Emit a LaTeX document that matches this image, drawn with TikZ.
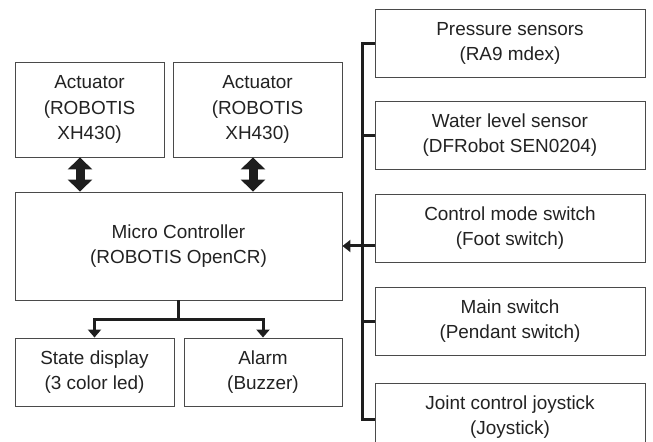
\documentclass[tikz,border=0pt]{standalone}
\usepackage{fontspec}
\setmainfont{Liberation Sans}
\usetikzlibrary{arrows.meta,positioning,calc}
\definecolor{blkLine}{HTML}{1E1E1E}
\definecolor{blkEdge}{HTML}{4A4A4A}
\definecolor{blkText}{HTML}{222222}

\begin{document}
\begin{tikzpicture}[x=1bp,y=-1bp,font=\fontsize{19}{25.5}\selectfont,
  blkbox/.style={draw=blkEdge,line width=0.9bp,text=blkText,align=center,inner sep=2bp},
  sidebox/.style={blkbox,minimum width=270bp,minimum height=68bp},
  busline/.style={draw=blkLine,line width=3bp},
  biarrow/.style={draw=blkLine,line width=9bp,
    {Triangle[length=12bp,width=24bp]}-{Triangle[length=12bp,width=24bp]}},
  node distance=24bp]
\clip (0,0) rectangle (653,442);
% left part
\node[blkbox,minimum width=149bp,minimum height=95bp] (act1) at (89.5,109.5) {Actuator\\(ROBOTIS\\XH430)};
\node[blkbox,minimum width=169bp,minimum height=95bp] (act2) at (257.5,109.5) {Actuator\\(ROBOTIS\\XH430)};
\node[blkbox,minimum width=327bp,minimum height=108bp] (mcu) at (178.5,246) {Micro Controller\\(ROBOTIS OpenCR)};
\node[blkbox,minimum width=159bp,minimum height=68bp] (disp) at (94.5,372) {State display\\(3 color led)};
\node[blkbox,minimum width=158bp,minimum height=68bp] (alarm) at (263,372) {Alarm\\(Buzzer)};
% right column
\node[sidebox] (press) at (510,43.5) {Pressure sensors\\(RA9 mdex)};
\node[sidebox,below=23bp of press] (water) {Water level sensor\\(DFRobot SEN0204)};
\node[sidebox,below=of water] (ctrl) {Control mode switch\\(Foot switch)};
\node[sidebox,below=of ctrl] (main) {Main switch\\(Pendant switch)};
\node[sidebox,below=27bp of main] (joint) {Joint control joystick\\(Joystick)};
% connectors
\draw[biarrow] ([xshift=-9.5bp]act1.south) -- ([xshift=-9.5bp]act1.south |- mcu.north);
\draw[biarrow] ([xshift=-4.5bp]act2.south) -- ([xshift=-4.5bp]act2.south |- mcu.north);
\draw[busline,-{Triangle[length=8bp,width=13bp]}] (mcu.south) -- ++(0,19) -| (disp.north);
\draw[busline,-{Triangle[length=8bp,width=13bp]}] (mcu.south) -- ++(0,19) -| (alarm.north);
\draw[busline] (press.west) -- ++(-12,0) |- ([yshift=-2bp]joint.west);
\draw[busline] (water.west) -- ++(-12,0);
\draw[busline] (main.west) -- ++(-12,0);
\draw[busline,-{Triangle[length=8bp,width=12bp]}] (ctrl.west |- mcu.east) -- (mcu.east);
\end{tikzpicture}
\end{document}
